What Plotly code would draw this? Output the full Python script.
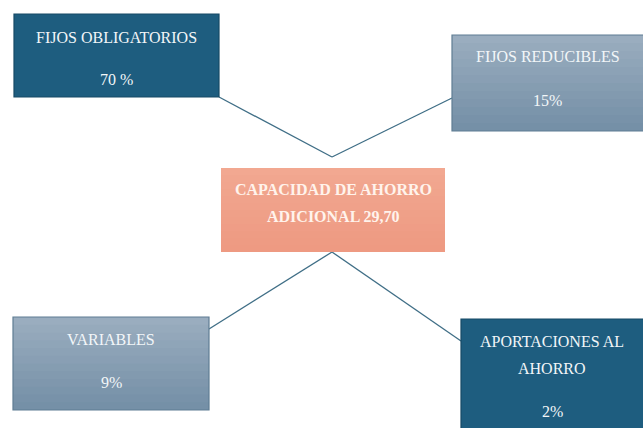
import plotly.graph_objects as go

# Data
labels = ["FIJOS OBLIGATORIOS", "FIJOS REDUCIBLES", "VARIABLES", "APORTACIONES AL|AHORRO"]
values = ["70 %", "15%", "9%", "2%"]
center_label = "CAPACIDAD DE AHORRO|ADICIONAL 29,70"

# Layout (pixel coords)
boxes = [(14, 14, 219, 97), (452, 35, 645, 131), (13, 317, 209, 410), (461, 319, 645, 430)]
fills = ["#1e5d7f", "grad", "grad", "#1e5d7f"]
title_y = [37, 56, 339, 341]
value_y = [79, 100, 382, 411]
line_gap = 27
center_box = (221, 168, 445, 252)
center_y = 189

fig = go.Figure()
shapes = []
annotations = []

# connector lines
lines = [((219, 97), (332, 157)), ((332, 157), (452, 98)),
         ((332, 252), (209, 329)), ((332, 252), (461, 341))]
for (x0, y0), (x1, y1) in lines:
    shapes.append(dict(type="line", x0=x0, y0=y0, x1=x1, y1=y1,
                       line=dict(color="#3f6e86", width=1.3), layer="below"))

def grad_rect(x0, y0, x1, y1, top, bot, n=12):
    def hx(c):
        return [int(c[i:i + 2], 16) for i in (1, 3, 5)]
    a, b = hx(top), hx(bot)
    h = (y1 - y0) / n
    for i in range(n):
        t = i / (n - 1)
        c = "rgb(%d,%d,%d)" % tuple(int(a[k] + (b[k] - a[k]) * t) for k in range(3))
        yb = y1 if i == n - 1 else y0 + (i + 1) * h + 2
        shapes.append(dict(type="rect", x0=x0, x1=x1, y0=y0 + i * h, y1=yb,
                           fillcolor=c, line=dict(width=0, color=c)))

for (x0, y0, x1, y1), f in zip(boxes, fills):
    if f == "grad":
        grad_rect(x0, y0, x1, y1, "#9aadbf", "#7590a7")
        shapes.append(dict(type="rect", x0=x0, x1=x1, y0=y0, y1=y1,
                           line=dict(color="#5f7d93", width=1.2), fillcolor="rgba(0,0,0,0)"))
    else:
        shapes.append(dict(type="rect", x0=x0, x1=x1, y0=y0, y1=y1,
                           fillcolor=f, line=dict(color="#174a66", width=1.2)))

cx0, cy0, cx1, cy1 = center_box
grad_rect(cx0, cy0, cx1, cy1, "#f2a891", "#ee9a82")

FAM = "'Liberation Serif', 'Times New Roman', serif"
font = dict(family=FAM, size=16, color="#f2f6f8")
for (x0, y0, x1, y1), lab, val, ty, vy in zip(boxes, labels, values, title_y, value_y):
    xc = (x0 + min(x1, 643)) / 2
    for j, part in enumerate(lab.split("|")):
        annotations.append(dict(x=xc, y=ty + j * line_gap, text=part, showarrow=False, font=font))
    annotations.append(dict(x=xc, y=vy, text=val, showarrow=False, font=font))

for j, part in enumerate(center_label.split("|")):
    annotations.append(dict(x=(cx0 + cx1) / 2, y=center_y + j * line_gap, text="<b>" + part + "</b>",
                            showarrow=False,
                            font=dict(family=FAM, size=16, color="#fff3ec")))

fig.update_layout(
    width=643, height=428,
    margin=dict(l=0, r=0, t=0, b=0),
    paper_bgcolor="white", plot_bgcolor="white",
    xaxis=dict(range=[0, 643], visible=False, fixedrange=True),
    yaxis=dict(range=[428, 0], visible=False, fixedrange=True),
    shapes=shapes, annotations=annotations, showlegend=False,
)
fig.write_html("out.html", config={"displayModeBar": False},
               post_script="document.body.style.margin='0';document.body.style.overflow='hidden';")
